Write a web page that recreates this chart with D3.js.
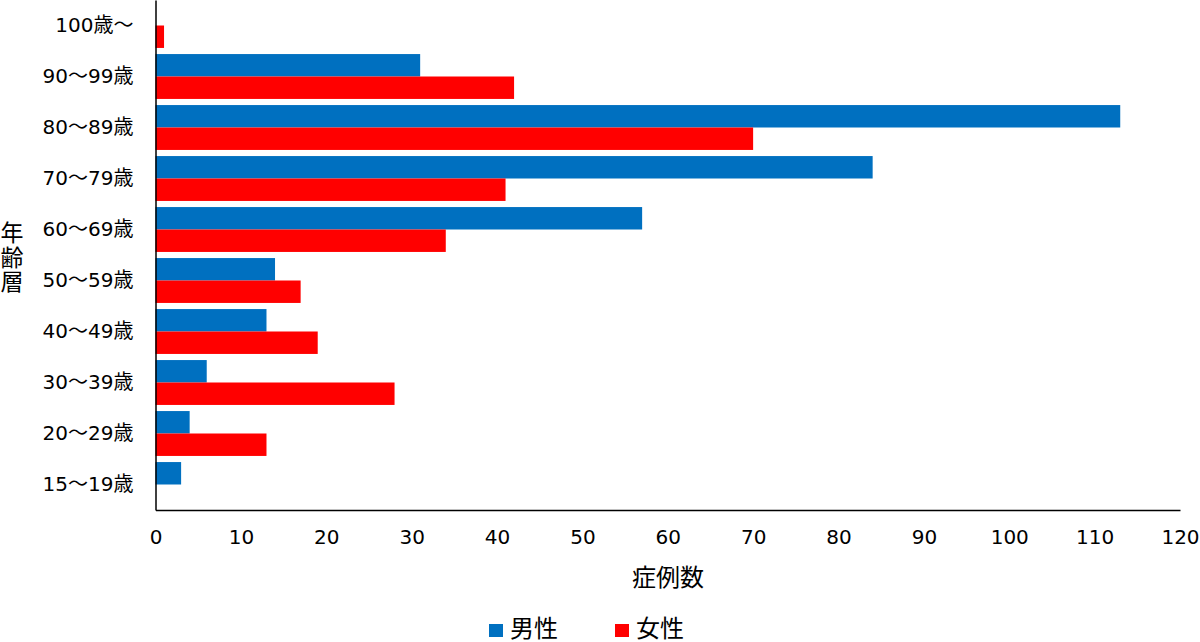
<!DOCTYPE html>
<html>
<head>
<meta charset="utf-8">
<script src="https://cdn.jsdelivr.net/npm/d3@7"></script>
<style>
  body { margin: 0; background: #fff; }
  svg { display: block; }
  svg text { font-family: "DejaVu Sans", "Noto Sans CJK JP", sans-serif; }
</style>
</head>
<body>
<div id="chart"></div>
<script>
// ---------- Data ----------
const ageGroups = ['100歳～', '90～99歳', '80～89歳', '70～79歳', '60～69歳',
                   '50～59歳', '40～49歳', '30～39歳', '20～29歳', '15～19歳'];
const maleCounts   = [0, 31, 113, 84, 57, 14, 13, 6, 4, 3];
const femaleCounts = [1, 42, 70, 41, 34, 17, 19, 28, 13, 0];
const seriesNames  = ['男性', '女性'];
const seriesColors = ['#0070c0', '#ff0000'];
const xTicks = [0, 10, 20, 30, 40, 50, 60, 70, 80, 90, 100, 110, 120];
const yTitleChars = ['年', '齢', '層'];

// ---------- Setup ----------
const width = 1200, height = 642;
const margin = { top: 0, left: 155.5 };
const innerW = 1180 - margin.left;
const innerH = 510 - margin.top;

const svg = d3.select('#chart').append('svg')
    .attr('width', width)
    .attr('height', height);

const g = svg.append('g')
    .attr('transform', `translate(${margin.left},${margin.top})`);

const x = d3.scaleLinear().domain([0, 120]).range([0, innerW]);
const y = d3.scaleBand().domain(ageGroups).range([0, innerH])
    .paddingInner(0.12).paddingOuter(0.06);
const ySub = d3.scaleBand().domain(seriesNames).range([0, y.bandwidth()]);

const rows = ageGroups.map((a, i) => ({ age: a, values: [maleCounts[i], femaleCounts[i]] }));

// ---------- Bars ----------
const row = g.selectAll('g.row')
    .data(rows)
    .join('g')
    .attr('class', 'row')
    .attr('transform', d => `translate(0,${y(d.age)})`);

row.selectAll('rect')
    .data(d => d.values.map((v, i) => ({ name: seriesNames[i], value: v, color: seriesColors[i] })))
    .join('rect')
    .attr('x', x(0))
    .attr('y', d => ySub(d.name))
    .attr('width', d => x(d.value) - x(0))
    .attr('height', ySub.bandwidth())
    .attr('fill', d => d.color);

// ---------- Axes ----------
const xAxis = g.append('g')
    .attr('transform', `translate(0,${innerH})`)
    .call(d3.axisBottom(x).tickValues(xTicks).tickSize(0).tickPadding(20));
xAxis.attr('font-family', null).attr('font-size', 20);
xAxis.select('.domain').attr('stroke', '#000').attr('stroke-width', 1.5);
xAxis.selectAll('text').attr('fill', '#000');

const yAxis = g.append('g')
    .call(d3.axisLeft(y).tickSize(0).tickPadding(22));
yAxis.attr('font-family', null).attr('font-size', 20);
yAxis.select('.domain').attr('stroke', '#000').attr('stroke-width', 1.5);
yAxis.selectAll('text').attr('fill', '#000');

// ---------- Titles ----------
svg.append('text')
    .attr('x', 668).attr('y', 578)
    .attr('text-anchor', 'middle').attr('dominant-baseline', 'central')
    .attr('font-size', 24).attr('fill', '#000')
    .text('症例数');

svg.selectAll('text.ytitle')
    .data(yTitleChars)
    .join('text')
    .attr('class', 'ytitle')
    .attr('x', 12)
    .attr('y', (d, i) => 233 + i * 24.5)
    .attr('text-anchor', 'middle').attr('dominant-baseline', 'central')
    .attr('font-size', 23).attr('fill', '#000')
    .text(d => d);

// ---------- Legend ----------
const legendX = [489, 615];
const legend = svg.selectAll('g.legend')
    .data(seriesNames)
    .join('g')
    .attr('class', 'legend')
    .attr('transform', (d, i) => `translate(${legendX[i]},628)`);
legend.append('rect')
    .attr('x', 0).attr('y', -4).attr('width', 14).attr('height', 13)
    .attr('fill', (d, i) => seriesColors[i]);
legend.append('text')
    .attr('x', 21).attr('y', 1)
    .attr('dominant-baseline', 'central')
    .attr('font-size', 24).attr('fill', '#000')
    .text(d => d);
</script>
</body>
</html>
